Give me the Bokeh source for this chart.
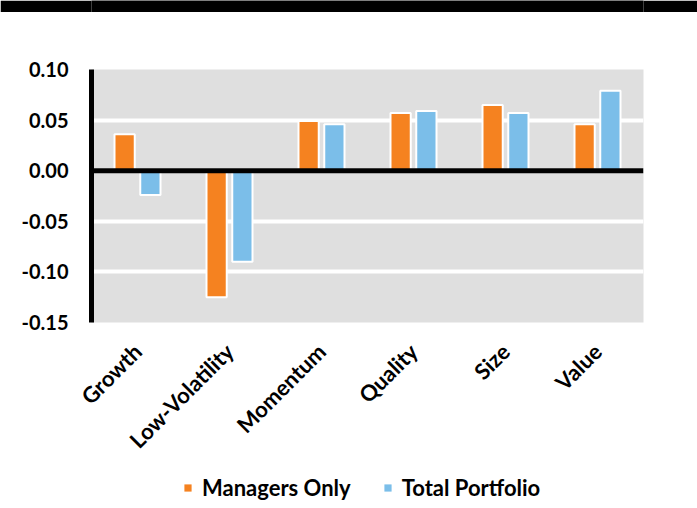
from bokeh.plotting import figure
from bokeh.models import ColumnDataSource, FactorRange, Span, Legend, LegendItem, FixedTicker, NumeralTickFormatter
from bokeh.layouts import column
from bokeh.transform import dodge
from bokeh.embed import file_html
from bokeh.resources import INLINE
import math

categories = ["Growth", "Low-Volatility", "Momentum", "Quality", "Size", "Value"]
managers_only = [0.036, -0.125, 0.049, 0.057, 0.065, 0.046]
total_portfolio = [-0.024, -0.090, 0.046, 0.059, 0.057, 0.079]
y_ticks = [-0.15, -0.10, -0.05, 0.00, 0.05, 0.10]
series_names = ["Managers Only", "Total Portfolio"]

ORANGE = "#F58220"
BLUE = "#7BBEE9"
FONT = "Lato"

src = ColumnDataSource(dict(cat=categories, mgr=managers_only, tot=total_portfolio))

# black band at the top of the page
top = figure(width=697, height=12, output_backend="svg", toolbar_location=None, min_border=0,
             background_fill_color="black", border_fill_color="black", outline_line_color=None)
top.axis.visible = False
top.grid.visible = False

p = figure(width=697, height=456, x_range=FactorRange(*categories), y_range=(-0.15, 0.10),
           output_backend="svg", toolbar_location=None,
           min_border_left=91, min_border_right=54, min_border_top=57, min_border_bottom=146,
           background_fill_color="#DFDFDF", border_fill_color="white", outline_line_color=None)

p.vbar(x=dodge("cat", -0.14, range=p.x_range), top="mgr", bottom=0, width=0.22, source=src,
       fill_color=ORANGE, line_color="white", line_width=2)
p.vbar(x=dodge("cat", 0.14, range=p.x_range), top="tot", bottom=0, width=0.22, source=src,
       fill_color=BLUE, line_color="white", line_width=2)

p.add_layout(Span(location=0, dimension="width", line_color="black", line_width=5))

p.xgrid.visible = False
p.ygrid.grid_line_color = "white"
p.ygrid.grid_line_width = 4
p.yaxis.ticker = FixedTicker(ticks=y_ticks)
p.yaxis.formatter = NumeralTickFormatter(format="0.00")
p.yaxis.axis_line_width = 5
p.yaxis.axis_line_color = "black"
p.yaxis.major_tick_line_color = None
p.yaxis.minor_tick_line_color = None
p.yaxis.major_label_text_font = FONT
p.yaxis.major_label_text_font_style = "bold"
p.yaxis.major_label_text_font_size = "20px"
p.yaxis.major_label_text_color = "black"
p.yaxis.major_label_standoff = 17

p.xaxis.axis_line_color = None
p.xaxis.major_tick_line_color = None
p.xaxis.minor_tick_line_color = None
p.xaxis.major_label_orientation = math.pi / 4
p.xaxis.major_label_text_font = FONT
p.xaxis.major_label_text_font_style = "bold"
p.xaxis.major_label_text_font_size = "22px"
p.xaxis.major_label_text_color = "black"
p.xaxis.major_label_standoff = 19

# legend strip below the chart (its bars fall outside its range, only the legend shows)
leg = figure(width=697, height=40, x_range=FactorRange(*categories), y_range=(1, 2),
             output_backend="svg", toolbar_location=None, min_border=0,
             background_fill_color="white", border_fill_color="white", outline_line_color=None)
leg.axis.visible = False
leg.grid.visible = False
g1 = leg.vbar(x="cat", top="mgr", bottom=0, width=0.2, source=src, fill_color=ORANGE, line_color=None)
g2 = leg.vbar(x="cat", top="tot", bottom=0, width=0.2, source=src, fill_color=BLUE, line_color=None)
legend = Legend(items=[LegendItem(label=series_names[0], renderers=[g1]),
                       LegendItem(label=series_names[1], renderers=[g2])],
                orientation="horizontal", location=(92, 7), padding=4, margin=0,
                label_text_font=FONT, label_text_font_style="bold", label_text_font_size="22px",
                label_text_color="black",
                glyph_width=9, glyph_height=9, spacing=32, label_standoff=10,
                background_fill_alpha=0, border_line_color=None)
leg.add_layout(legend, "center")

layout = column(top, p, leg, spacing=0)

open("out.html", "w").write(file_html(layout, INLINE))
